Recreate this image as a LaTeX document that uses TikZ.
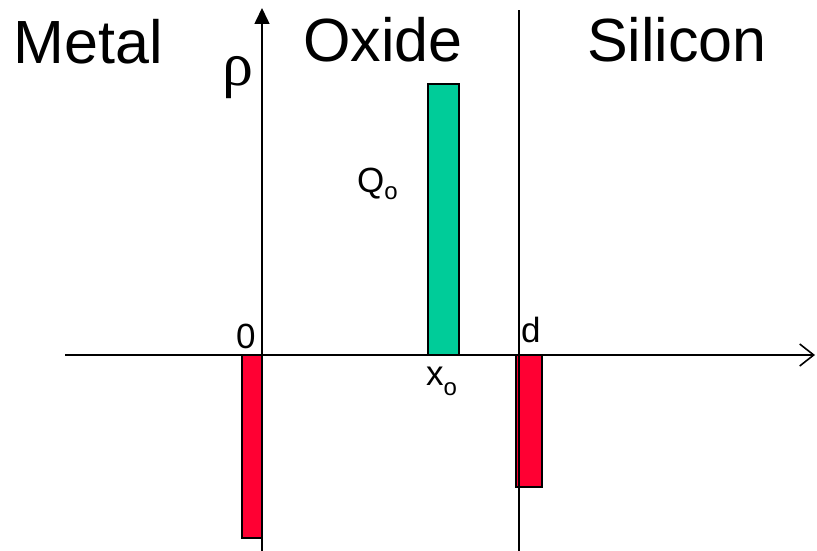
\documentclass[tikz,border=0pt]{standalone}
\usepackage{fontspec}
\setmainfont{Liberation Sans}
\newfontfamily\rhofont{Liberation Serif}
\usetikzlibrary{arrows.meta,positioning}

\newcommand{\subo}[1]{\raisebox{-#1pt}{\fontsize{24}{24}\selectfont o}}

\begin{document}
\begin{tikzpicture}[
  x=1pt, y=-1pt,
  axis/.style={line width=1.6pt},
  bar/.style={draw, line width=1.8pt},
  region/.style={font=\fontsize{61}{70}\selectfont, anchor=base, inner sep=0pt},
  lbl/.style={font=\fontsize{35}{40}\selectfont, inner sep=0pt, anchor=base west}
]
  \useasboundingbox (0,0) rectangle (817,551);
  \definecolor{chargered}{RGB}{255,0,51}
  \definecolor{chargegreen}{RGB}{0,204,153}
  % axes
  \coordinate (ybot) at (262,551);
  \coordinate (ytop) at (262,8);
  \coordinate (xleft) at (65,355);
  \coordinate (xright) at (815,355);
  \coordinate (sitop) at (519,10);
  \coordinate (sibot) at (519,551);
  % charge sheets
  \draw[bar, fill=chargegreen] (428,84) rectangle (459,355);
  \draw[bar, fill=chargered] (242,355) rectangle (262,538);
  \draw[bar, fill=chargered] (516,355) rectangle (542,487);
  \draw[axis, -{Triangle[length=16pt, width=15pt]}] (ybot) -- (ytop);
  \draw[axis, -{Straight Barb[length=14pt, width=22pt, line width=1.6pt]}] (xleft) -- (xright);
  \draw[axis] (sibot) -- (sitop);
  % labels
  \node[region] (metal) at (88,64) {Metal};
  \node[region] (oxide) at (383,62) {Oxide};
  \node[region] (silicon) at (677,62) {Silicon};
  \node[font=\rhofont\fontsize{62}{66}\selectfont, inner sep=0pt] (rho) at (238,78) {ρ};
  \node[lbl] (qo) at (357,192) {Q\subo{7}};
  \node[lbl] (zero) at (236,348) {0};
  \node[lbl] (d) at (521,342) {d};
  \node[lbl] (xo) at (426,385) {x\subo{10}};
\end{tikzpicture}
\end{document}
